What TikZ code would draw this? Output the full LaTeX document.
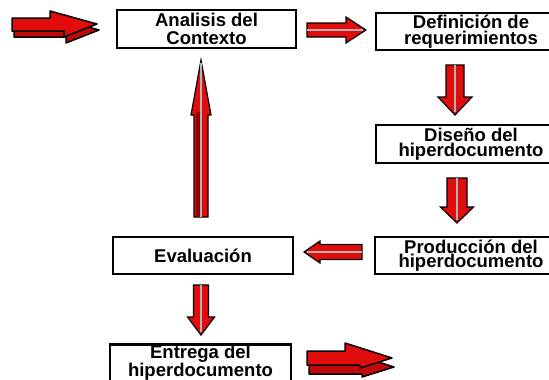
\documentclass[tikz,border=0pt]{standalone}
\usepackage{fontspec}
\setmainfont{Liberation Sans}
\usetikzlibrary{calc}
\definecolor{arrred}{RGB}{225,12,12}
\definecolor{arrdark}{RGB}{140,0,0}
\tikzset{
  box/.style={draw=black, line width=2.5pt, fill=white, minimum height=37pt,
    align=center, inner sep=0pt},
  lead/.style={font=\bfseries\fontsize{18.5}{#1}\selectfont},
  barr/.style={fill=arrred, draw=black, line width=1.2pt, line join=miter},
  bline/.style={draw=white!70!black, line width=1.3pt},
  solid3d/.style={fill=arrred, draw=black, line width=1.5pt, line join=round},
  side3d/.style={fill=arrred!85!black, draw=black, line width=1.5pt, line join=round},
}
% #2 from, #3 to, #4 half shaft width, #5 half head width, #6 head length
\newcommand\blockarrow[6][]{%
  \filldraw[barr,#1] ($(#2)!#4!-90:(#3)$) -- ($(#3)!#6!(#2)!#4!-90:(#3)$)
    -- ($(#3)!#6!(#2)!#5!-90:(#3)$) -- (#3)
    -- ($(#3)!#6!(#2)!#5!90:(#3)$) -- ($(#3)!#6!(#2)!#4!90:(#3)$)
    -- ($(#2)!#4!90:(#3)$) -- cycle;
  \draw[bline] (#2) -- ($(#3)!3pt!(#2)$);
}
\begin{document}
\begin{tikzpicture}[x=1pt,y=-1pt]
\clip (0,0) rectangle (549,380);
\fill[white] (0,0) rectangle (549,380);

% boxes
\node[box, lead=18, minimum width=179pt, minimum height=38pt] (ana) at (206.5,29) {Analisis del\\Contexto};
\node[box, lead=16, minimum width=190pt] (def) at (471,31.5) {Definición de\\requerimientos};
\node[box, lead=15, minimum width=190pt, minimum height=38pt] (dis) at (471,144) {Diseño del\\hiperdocumento};
\node[box, lead=14, minimum width=192pt] (pro) at (471,255.5) {Producción del\\hiperdocumento};
\node[box, lead=14, minimum width=180pt] (eva) at (203,255.5) {Evaluación};
\node[box, lead=14, minimum width=181pt, minimum height=36pt] (ent) at (200.5,365) {Entrega del\\hiperdocumento\rule[-9pt]{0pt}{9pt}};

% connector end points
\coordinate (a1s) at (307,30);  \coordinate (a1e) at (366,30);
\coordinate (a2s) at (455,65);  \coordinate (a2e) at (455,115);
\coordinate (a3s) at (457,178); \coordinate (a3e) at (457,223);
\coordinate (a4s) at (362,252); \coordinate (a4e) at (304,252);
\coordinate (a5s) at (201,285); \coordinate (a5e) at (201,335);
\coordinate (a6s) at (201,217); \coordinate (a6e) at (201,60);

\blockarrow{a1s}{a1e}{7pt}{13pt}{20pt}
\blockarrow{a2s}{a2e}{9pt}{17pt}{18pt}
\blockarrow{a3s}{a3e}{10pt}{16.5pt}{16pt}
\blockarrow{a4s}{a4e}{7.5pt}{11pt}{16pt}
\blockarrow{a5s}{a5e}{7.5pt}{13.5pt}{18pt}
\blockarrow{a6s}{a6e}{7pt}{10pt}{55pt}
\draw[arrdark, line width=4pt] ($(a6s)!2.7pt!90:(a6e)$) -- ($(a6e)!52pt!(a6s)!2.7pt!90:(a6e)$);
\draw[bline] (a6s) -- ($(a6e)!3pt!(a6s)$);

% input arrow (3D)
\filldraw[side3d, shift={(2,6)}] (12,18) -- (50,18) -- (50,11) -- (97,24) -- (64,37) -- (64,31) -- (12,31) -- cycle;
\filldraw[solid3d] (12,18) -- (50,18) -- (50,11) -- (97,24) -- (64,37) -- (64,31) -- (12,31) -- cycle;

% output arrow (3D)
\filldraw[side3d, shift={(2,9)}] (307,351) -- (345,351) -- (345,343) -- (392,358) -- (360,368) -- (360,365) -- (307,365) -- cycle;
\filldraw[solid3d] (307,351) -- (345,351) -- (345,343) -- (392,358) -- (360,368) -- (360,365) -- (307,365) -- cycle;
\end{tikzpicture}
\end{document}
